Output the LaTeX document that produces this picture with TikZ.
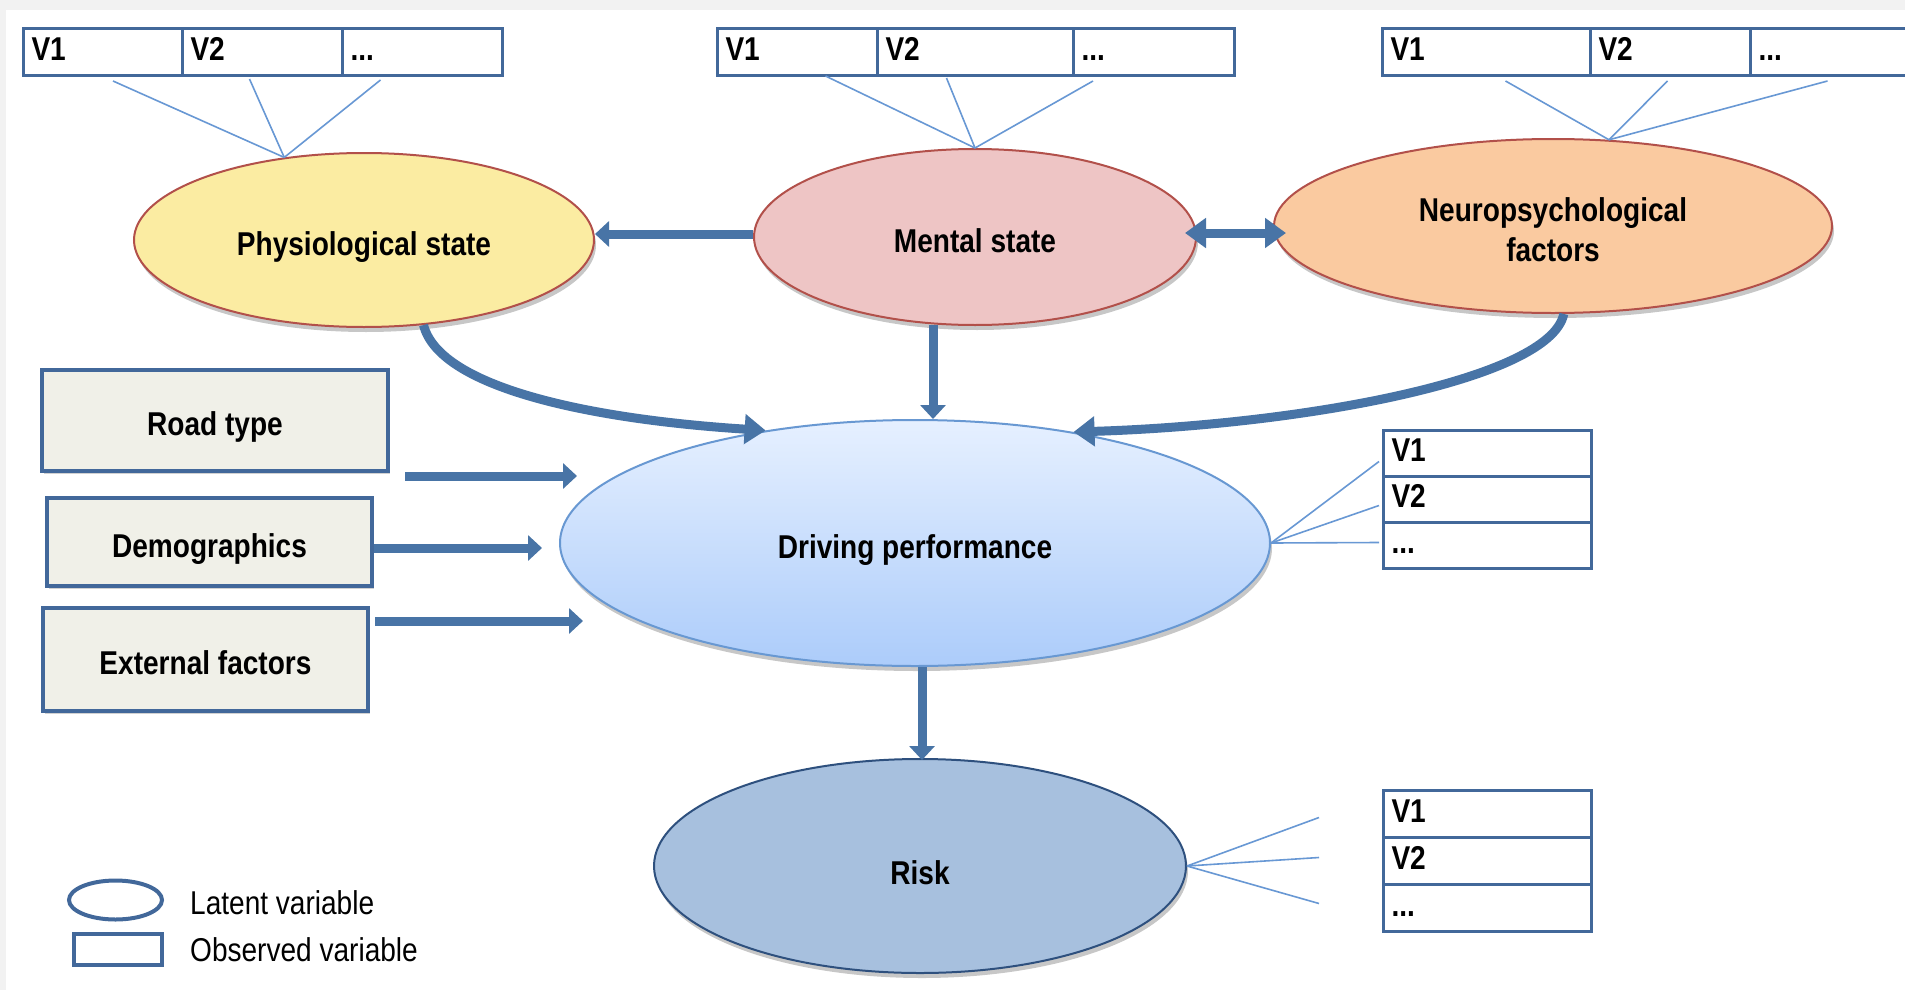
\documentclass[tikz,border=0pt]{standalone}
\usepackage{fontspec}
\setmainfont{Liberation Sans}
\newfontfamily\narrowfont[FakeStretch=0.85]{Liberation Sans}
\usetikzlibrary{shapes.geometric,arrows.meta,calc,shadows}

\definecolor{pagegray}{RGB}{242,242,242}
\definecolor{arrowblue}{RGB}{72,116,166}
\definecolor{thinblue}{RGB}{104,152,212}
\definecolor{boxedge}{RGB}{66,104,154}
\definecolor{boxfill}{RGB}{240,240,232}
\definecolor{physfill}{RGB}{251,236,162}
\definecolor{mentfill}{RGB}{238,197,197}
\definecolor{neurofill}{RGB}{250,202,160}
\definecolor{redge}{RGB}{178,80,74}
\definecolor{drvtop}{RGB}{230,240,255}
\definecolor{drvbot}{RGB}{172,204,250}
\definecolor{drvedge}{RGB}{104,152,210}
\definecolor{riskfill}{RGB}{167,192,222}
\definecolor{riskedge}{RGB}{46,80,126}

\begin{document}
\begin{tikzpicture}[x=1pt,y=-1pt,
  lbl/.style={font=\narrowfont\bfseries\fontsize{33}{40}\selectfont, text=black},
  lowlbl/.style={lbl, text height=32pt, text depth=2pt},
  latent/.style={ellipse, line width=2pt, inner sep=0pt,
    drop shadow={shadow xshift=2pt, shadow yshift=-5pt, opacity=0.22, fill=black}},
  factor/.style={rectangle, lowlbl, draw=boxedge, fill=boxfill, line width=4pt, inner sep=0pt,
    drop shadow={shadow xshift=2pt, shadow yshift=-3pt, opacity=0.18, fill=black}},
  cell/.style={rectangle, lbl, draw=boxedge, fill=white, line width=3pt, anchor=north west,
    inner xsep=8pt, inner ysep=0pt, text height=24pt, text depth=8pt, align=left,
    text width=#1},
  link/.style={draw=thinblue, line width=1.6pt},
  straightarrow/.style={draw=arrowblue, line width=9pt, -{Triangle[width=25pt,length=14pt]}},
  curvearrow/.style={draw=arrowblue, line width=9pt, -{Triangle[width=29pt,length=21pt]}},
  legendtext/.style={font=\narrowfont\fontsize{33}{38}\selectfont, text=black, anchor=west, inner sep=0pt}
]
\useasboundingbox (0,0) rectangle (1905,990);
\fill[pagegray] (0,0) rectangle (1905,990);
\fill[white] (6,10) rectangle (1905,990);

% indicator rows above the three upper latent variables
\node[cell=143pt, minimum height=47pt] (p1) at (22,27) {V1};
\node[cell=144pt, minimum height=47pt] (p2) at (181,27) {V2};
\node[cell=144pt, minimum height=47pt] (p3) at (341,27) {...};

\node[cell=144pt, minimum height=47pt] (m1) at (716,27) {V1};
\node[cell=180pt, minimum height=47pt] (m2) at (876,27) {V2};
\node[cell=145pt, minimum height=47pt] (m3) at (1072,27) {...};

\node[cell=192pt, minimum height=47pt] (n1) at (1381,27) {V1};
\node[cell=144pt, minimum height=47pt] (n2) at (1589,27) {V2};
\node[cell=150pt, minimum height=47pt] (n3) at (1749,27) {...};

% indicator columns for driving performance and risk
\node[cell=192pt, minimum height=46pt] (d1) at (1382,429) {V1};
\node[cell=192pt, minimum height=46pt] (d2) at (1382,475) {V2};
\node[cell=192pt, minimum height=46pt] (d3) at (1382,521) {...};

\node[cell=192pt, minimum height=47pt] (r1) at (1382,789) {V1};
\node[cell=192pt, minimum height=47pt] (r2) at (1382,836) {V2};
\node[cell=192pt, minimum height=47pt] (r3) at (1382,883) {...};

% latent variables
\node[latent, lowlbl, fill=physfill, draw=redge, minimum width=460pt, minimum height=174pt] (phys) at (364,240) {Physiological state};
\node[latent, lowlbl, fill=mentfill, draw=redge, minimum width=442pt, minimum height=176pt] (ment) at (975,237) {Mental state};
\node[latent, lbl, fill=neurofill, draw=redge, minimum width=558pt, minimum height=174pt, align=center] (neuro) at (1553,226) {\rule{0pt}{32pt}Neuropsychological\\factors};
\node[latent, lowlbl, top color=drvtop, bottom color=drvbot, draw=drvedge, minimum width=710pt, minimum height=246pt] (drv) at (915,543) {Driving performance};
\node[latent, lbl, text height=36pt, text depth=0pt, fill=riskfill, draw=riskedge, minimum width=532pt, minimum height=214pt] (risk) at (920,866) {Risk};

% observed external factors
\node[factor, minimum width=346pt, minimum height=101pt] (road) at (215,420.5) {Road type};
\node[factor, minimum width=325pt, minimum height=88pt] (demo) at (209.5,542) {Demographics};
\node[factor, minimum width=325pt, minimum height=103pt] (ext) at (205.5,659.5) {External factors};

% loadings of the indicators
\draw[link] ($(p1.south)+(10,4)$) -- (phys.134);
\draw[link] ($(p2.south)+(-13,2)$) -- (phys.134);
\draw[link] ($(p3.south)+(-42,3)$) -- (phys.134);

\draw[link] ($(m1.south)+(28,-1)$) -- (ment.north);
\draw[link] ($(m2.south)+(-29,1)$) -- (ment.north);
\draw[link] ($(m3.south)+(-61,4)$) -- (ment.north);

\draw[link] ($(n1.south)+(19,4)$) -- (neuro.57);
\draw[link] ($(n2.south)+(-3,4)$) -- (neuro.57);
\draw[link] ($(n3.south)+(-6,4)$) -- (neuro.57);

\draw[link] (drv.east) -- ($(d1.west)+(-3,8)$);
\draw[link] (drv.east) -- ($(d2.west)+(-3,6)$);
\draw[link] (drv.east) -- ($(d3.west)+(-3,-3)$);

\coordinate (rk1) at ($(r1.west)+(-63,3.5)$);
\coordinate (rk2) at ($(r2.west)+(-63,-3.5)$);
\coordinate (rk3) at ($(r3.west)+(-63,-4.5)$);
\draw[link] (risk.east) -- (rk1);
\draw[link] (risk.east) -- (rk2);
\draw[link] (risk.east) -- (rk3);

% structural paths
\draw[straightarrow] ($(ment.west)+(0,-3)$) -- ($(phys.east)+(0,-6)$);
\draw[draw=arrowblue, line width=9pt, {Triangle[width=29pt,length=21pt]}-{Triangle[width=29pt,length=21pt]}]
  ($(ment.east)+(-12,-4)$) -- ($(neuro.west)+(13,7)$);

\coordinate (ma) at ($(ment.south)+(-42,-1)$);
\draw[straightarrow] (ma) -- (ma |- drv.north);

\draw[curvearrow] (phys.-55) .. controls (440,390) and (600,420) .. (drv.143);
\draw[curvearrow] (neuro.-83) .. controls (1550,380) and (1300,425) .. (drv.35);

\coordinate (roadtip) at (577,476);
\coordinate (demotip) at (542,548);
\coordinate (exttip) at (583,621);
\draw[straightarrow] ($(road.south east)+(15,3)$) -- (roadtip);
\draw[straightarrow] (demo.east |- demotip) -- (demotip);
\draw[straightarrow] ($(ext.east |- exttip)+(5,0)$) -- (exttip);

\draw[straightarrow] ($(drv.south)+(7,0)$) -- ($(risk.north)+(2,2)$);

% legend
\node[ellipse, draw=boxedge, line width=4pt, inner sep=0pt, minimum width=93pt, minimum height=39pt] (lgell) at (115.5,900) {};
\node[rectangle, draw=boxedge, line width=4pt, inner sep=0pt, minimum width=88pt, minimum height=31pt] (lgrect) at (118,949.5) {};
\node[legendtext] (lglat) at (190,903) {Latent variable};
\node[legendtext] (lgobs) at (190,950) {Observed variable};
\end{tikzpicture}
\end{document}
